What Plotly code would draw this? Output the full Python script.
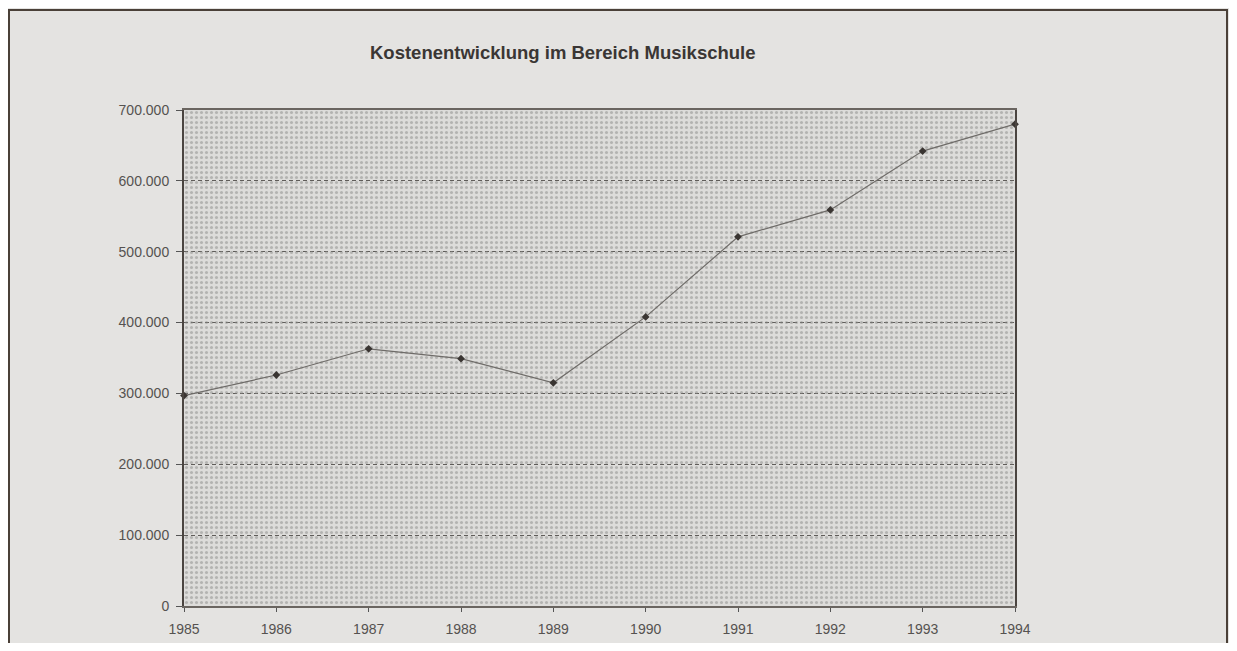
import plotly.graph_objects as go

years = [1985, 1986, 1987, 1988, 1989, 1990, 1991, 1992, 1993, 1994]
kosten = [297000, 326000, 363000, 349000, 315000, 408000, 521000, 559000, 642000, 680000]
y_ticks = [0, 100000, 200000, 300000, 400000, 500000, 600000, 700000]
title_text = "Kostenentwicklung im Bereich Musikschule"

x_min, x_max = years[0], years[-1]
y_min, y_max = y_ticks[0], y_ticks[-1]

# page body has an 8px margin; compensate so the window matches the reference
OFF = 8
W, H = 1237 - 2 * OFF, 651 - 2 * OFF
ml, mt = 184 - OFF, 110 - OFF
mr = W - (1015 - OFF)
mb = H - (606 - OFF)
pw, ph = W - ml - mr, H - mt - mb

def px_x(p):
    return (p - OFF - ml) / pw

def px_y(p):
    return (H - mb - (p - OFF)) / ph

fig = go.Figure()

# stippled plot area background (transparent between dots so gridlines show)
fig.add_trace(go.Scatter(
    x=[x_min, x_max, x_max, x_min, x_min],
    y=[y_min, y_min, y_max, y_max, y_min],
    mode="none", fill="toself",
    fillcolor="rgba(0,0,0,0)",
    fillpattern=dict(shape=".", size=5, solidity=0.3, fgcolor="#8a8987",
                     bgcolor="rgba(0,0,0,0)"),
    hoverinfo="skip", showlegend=False,
))

fig.add_trace(go.Scatter(
    x=years, y=kosten, mode="lines+markers",
    line=dict(color="#6e6b68", width=1.2),
    marker=dict(symbol="diamond", size=6, color="#3a3532"),
    cliponaxis=False, showlegend=False,
))

fig.update_layout(
    width=W, height=H,
    margin=dict(l=ml, r=mr, t=mt, b=mb, pad=0, autoexpand=False),
    paper_bgcolor="#e4e3e1",
    plot_bgcolor="#dddcda",
    separators=",.",
    font=dict(family="Liberation Sans, Arial, sans-serif", color="#555250"),
    xaxis=dict(
        range=[x_min, x_max], tickvals=years, ticktext=[str(y) for y in years],
        showgrid=False, zeroline=False, automargin=False,
        showline=True, linecolor="#6a6560", linewidth=1.5, mirror=True,
        ticks="outside", ticklen=4, tickcolor="#555",
        ticklabelstandoff=5,
        tickfont=dict(size=14, color="#555250"),
    ),
    yaxis=dict(
        range=[y_min, y_max], tickvals=y_ticks, tickformat=",d",
        showgrid=True, gridcolor="#5f5c59", griddash="4px,3px", gridwidth=1,
        zeroline=False, automargin=False,
        showline=True, linecolor="#4a4440", linewidth=2, mirror=True,
        ticks="outside", ticklen=6, tickcolor="#555",
        ticklabelstandoff=4,
        tickfont=dict(size=14, color="#555250"),
    ),
    shapes=[dict(
        type="rect", xref="paper", yref="paper",
        x0=px_x(9), x1=px_x(1227), y0=px_y(720), y1=px_y(10),
        line=dict(color="#4a4038", width=2), fillcolor="rgba(0,0,0,0)",
        layer="below",
    )],
    annotations=[dict(
        text="<b>" + title_text + "</b>", xref="paper", yref="paper",
        x=px_x(563), y=px_y(52), xanchor="center", yanchor="middle",
        showarrow=False, font=dict(size=18.5, color="#3a3634",
                                   family="Liberation Sans, Arial, sans-serif"),
    )],
)

fig.write_html("out.html")
